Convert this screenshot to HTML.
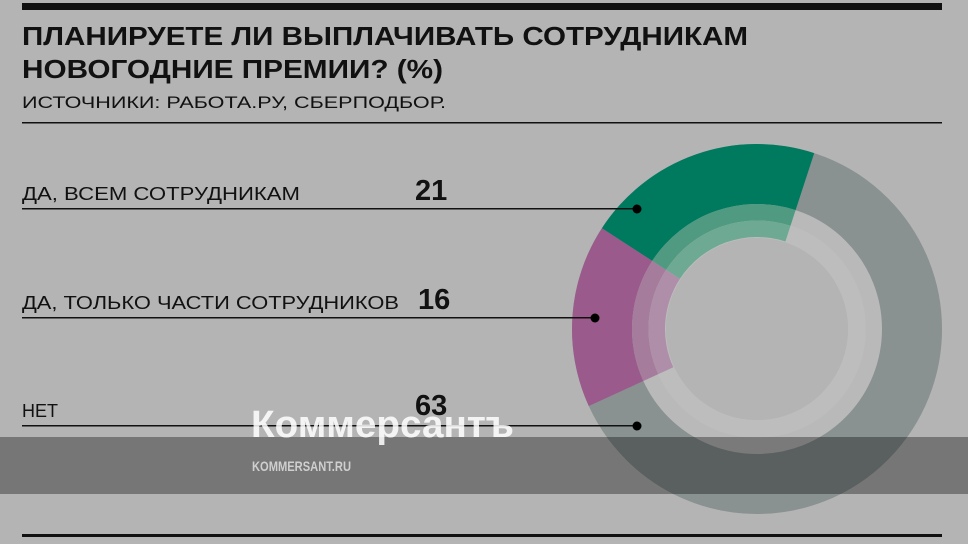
<!DOCTYPE html>
<html><head><meta charset="utf-8"><style>
html,body{margin:0;padding:0;background:#b4b4b4;}
svg{display:block;font-family:"Liberation Sans","DejaVu Sans",sans-serif;}
</style></head><body>
<svg width="968" height="544" viewBox="0 0 968 544" xmlns="http://www.w3.org/2000/svg">
<rect width="968" height="544" fill="#b4b4b4"/>
<rect x="22" y="3" width="920" height="7" fill="#111"/>
<text x="22" y="45" font-size="26" font-weight="bold" fill="#111" textLength="726" lengthAdjust="spacingAndGlyphs">ПЛАНИРУЕТЕ ЛИ ВЫПЛАЧИВАТЬ СОТРУДНИКАМ</text>
<text x="22" y="78" font-size="26" font-weight="bold" fill="#111" textLength="421" lengthAdjust="spacingAndGlyphs">НОВОГОДНИЕ ПРЕМИИ? (%)</text>
<text x="22" y="108" font-size="17" fill="#111" textLength="424" lengthAdjust="spacingAndGlyphs">ИСТОЧНИКИ: РАБОТА.РУ, СБЕРПОДБОР.</text>
<rect x="22" y="122" width="920" height="1.5" fill="#111"/>

<g transform="translate(757,329)">
<circle r="155" fill="none" stroke="#899191" stroke-width="60"/>
<path d="M -155.1,-100.8 A185,185 0 0 1 57.2,-175.9 L 38.6,-118.9 A125,125 0 0 0 -104.8,-68.1 Z" fill="#007a5f"/>
<path d="M -168.2,77.0 A185,185 0 0 1 -155.1,-100.8 L -104.8,-68.1 A125,125 0 0 0 -113.7,52.0 Z" fill="#9a5a8b"/>
<circle r="117" fill="none" stroke="#ffffff" stroke-opacity="0.07" stroke-width="16"/>
<circle r="100" fill="none" stroke="#ffffff" stroke-opacity="0.12" stroke-width="18"/>
<path d="M -104.8,-68.1 A125,125 0 0 1 38.6,-118.9 L 33.5,-103.2 A108.5,108.5 0 0 0 -91,-59.1 Z" fill="#4f9a80"/>
<path d="M -91,-59.1 A108.5,108.5 0 0 1 33.5,-103.2 L 28.4,-87.5 A92,92 0 0 0 -77.1,-50.1 Z" fill="#6eaa93"/>
<path d="M -113.7,52.0 A125,125 0 0 1 -104.8,-68.1 L -91,-59.1 A108.5,108.5 0 0 0 -98.7,45.1 Z" fill="#a57c9c"/>
<path d="M -98.7,45.1 A108.5,108.5 0 0 1 -91,-59.1 L -77.1,-50.1 A92,92 0 0 0 -83.7,38.3 Z" fill="#ae8ea8"/>
<circle r="91" fill="#b4b4b4"/>
</g>

<text x="22" y="200" font-size="18" fill="#111" textLength="278" lengthAdjust="spacingAndGlyphs">ДА, ВСЕМ СОТРУДНИКАМ</text>
<text x="415" y="200" font-size="29" font-weight="bold" fill="#111">21</text>
<rect x="22" y="208" width="615" height="1.5" fill="#111"/>
<circle cx="637" cy="209" r="4.5" fill="#000"/>

<text x="22" y="309" font-size="18" fill="#111" textLength="377" lengthAdjust="spacingAndGlyphs">ДА, ТОЛЬКО ЧАСТИ СОТРУДНИКОВ</text>
<text x="418" y="309" font-size="29" font-weight="bold" fill="#111">16</text>
<rect x="22" y="317" width="573" height="1.5" fill="#111"/>
<circle cx="595" cy="318" r="4.5" fill="#000"/>

<text x="22" y="417" font-size="18" fill="#111">НЕТ</text>
<text x="415" y="415" font-size="29" font-weight="bold" fill="#111">63</text>
<rect x="22" y="425" width="615" height="1.5" fill="#111"/>
<circle cx="637" cy="426" r="4.5" fill="#000"/>

<rect x="0" y="437" width="968" height="57" fill="#000" fill-opacity="0.34"/>
<text x="251" y="437" font-size="38" font-weight="bold" fill="#ffffff" fill-opacity="0.85" textLength="263" lengthAdjust="spacingAndGlyphs">Коммерсантъ</text>
<text x="252" y="471" font-size="14" font-weight="bold" fill="#cfcfcf" textLength="99" lengthAdjust="spacingAndGlyphs">KOMMERSANT.RU</text>

<rect x="22" y="534" width="920" height="3" fill="#111"/>
</svg>
</body></html>
